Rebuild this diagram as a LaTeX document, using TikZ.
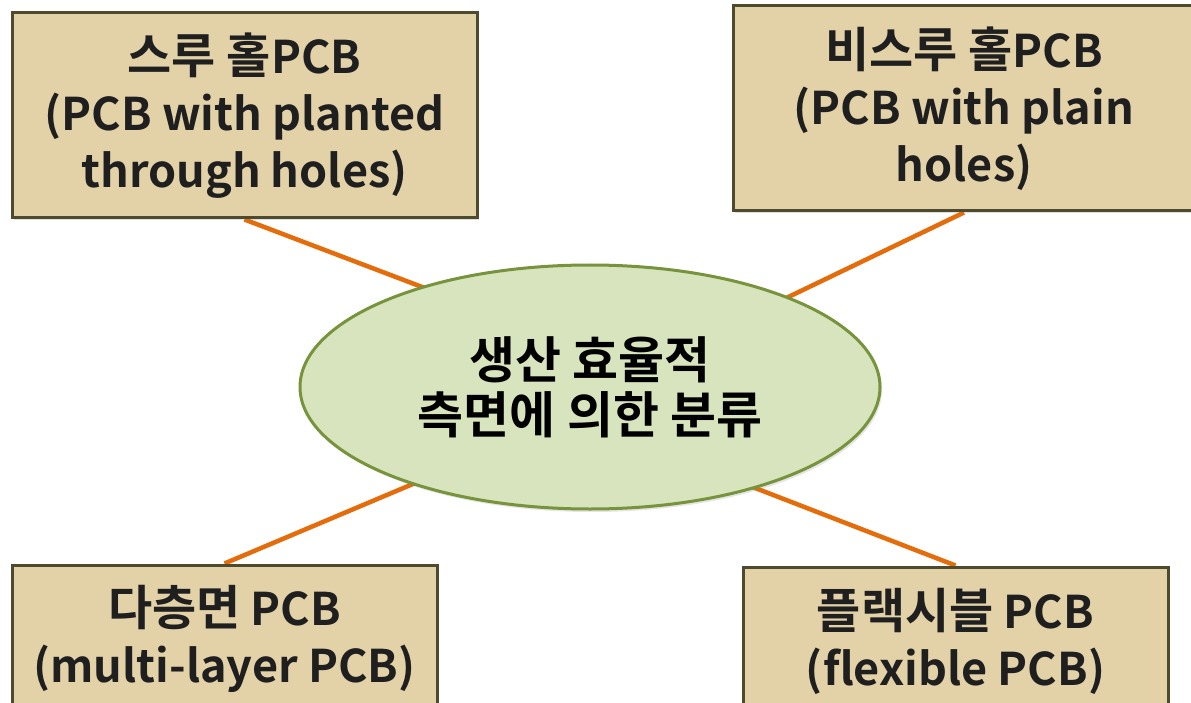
\documentclass[tikz,border=0pt]{standalone}
\usepackage{fontspec}
\setmainfont{Noto Sans CJK KR}[BoldFont={* Bold}]
\usetikzlibrary{shapes.geometric,shadows}
\definecolor{boxfill}{HTML}{E3D2A8}
\definecolor{boxline}{HTML}{4E4A2E}
\definecolor{ellfill}{HTML}{D7E4BD}
\definecolor{ellline}{HTML}{77933C}
\definecolor{linkcol}{HTML}{E46C0A}
\definecolor{txt}{HTML}{1F1F1F}
\newcommand{\kbig}[1]{{\fontsize{48}{57}\selectfont #1}}
\pgfdeclarelayer{bg}
\pgfsetlayers{bg,main}
\tikzset{
  pcbbox/.style={draw=boxline, line width=3pt, fill=boxfill, align=center,
    text=txt, font=\bfseries\fontsize{45}{57}\selectfont, inner sep=0pt,
    drop shadow={opacity=0.25, shadow xshift=2pt, shadow yshift=-2pt}},
  centre/.style={ellipse, draw=ellline, line width=3pt, fill=ellfill, align=center,
    text=black, font=\bfseries\fontsize{50}{55}\selectfont, inner sep=0pt,
    drop shadow={opacity=0.2, shadow xshift=2pt, shadow yshift=-3pt}},
  link/.style={draw=linkcol, line width=4.5pt}
}
\begin{document}
\begin{tikzpicture}[x=1pt,y=-1pt]
\useasboundingbox (0,0) rectangle (1191,703);
\clip (0,0) rectangle (1191,703);
\node[centre, minimum width=580pt, minimum height=244pt] (c) at (590,387) {생산 효율적\\측면에 의한 분류};
\node[pcbbox, minimum width=465pt, minimum height=205pt] (tl) at (244.5,115.5) {\kbig{스루 홀}PCB\\(PCB with planted\\through holes)};
\node[pcbbox, minimum width=462pt, minimum height=205pt] (tr) at (964,108.5) {\kbig{비스루 홀}PCB\\(PCB with plain\\holes)};
\node[pcbbox, minimum width=425pt, minimum height=148pt] (bl) at (224.5,639) {\kbig{다층면} PCB\\(multi-layer PCB)};
\node[pcbbox, minimum width=425pt, minimum height=148pt] (br) at (955.5,641) {\kbig{플랙시블} PCB\\(flexible PCB)};
\coordinate (e1) at (430,290);
\coordinate (e2) at (780,301);
\coordinate (e3) at (420,481);
\coordinate (e4) at (750,486);
\begin{pgfonlayer}{bg}
\fill[white] (0,0) rectangle (1191,703);
\draw[link] (tl.south) -- (e1);
\draw[link] (tr.south) -- (e2);
\draw[link] (bl.north) -- (e3);
\draw[link] (br.north) -- (e4);
\end{pgfonlayer}
\end{tikzpicture}
\end{document}
